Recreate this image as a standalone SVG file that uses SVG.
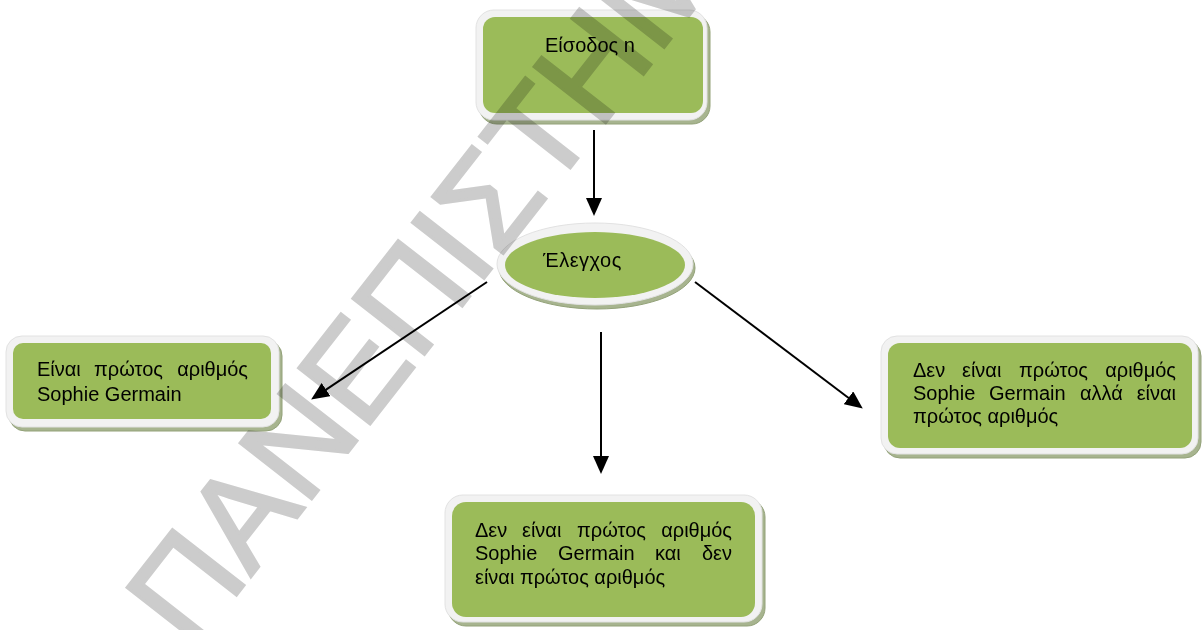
<svg xmlns="http://www.w3.org/2000/svg" width="1203" height="630" viewBox="0 0 1203 630">
<style>
.bg{fill:#ffffff}
.shadow{fill:#a7b48f;stroke:#93a279;stroke-width:1}
.border{fill:#f2f2f2;stroke:#e2e2e2;stroke-width:1}
.green{fill:#9bbb59}
.t{font-family:"Liberation Sans",Arial,sans-serif;font-size:20px;fill:#000}
.e{text-anchor:end}
.conn line{stroke:#000;stroke-width:2}
.wm{font-family:"Liberation Sans",Arial,sans-serif;font-size:132px;fill:#cccccc;stroke:#cccccc;stroke-width:3;mix-blend-mode:multiply}
</style>
<defs>
<marker id="ah" markerUnits="userSpaceOnUse" markerWidth="18" markerHeight="16" refX="9" refY="8" orient="auto">
<path d="M0,0 L18,8 L0,16 z" fill="#000"/>
</marker>
</defs>
<rect class="bg" x="0" y="0" width="1203" height="630"/>

<g id="node-input">
<rect class="shadow" x="479" y="14" width="231" height="110" rx="18"/>
<rect class="border" x="476" y="10" width="231" height="110" rx="18"/>
<rect class="green" x="483" y="17" width="220" height="96" rx="12"/>
<text class="t" x="545" y="52">Είσοδος n</text>
</g>

<g id="node-check">
<ellipse class="shadow" cx="597" cy="268" rx="98" ry="41"/>
<ellipse class="border" cx="595" cy="264" rx="98" ry="41"/>
<ellipse class="green" cx="595" cy="265" rx="90" ry="33"/>
<text class="t" x="543" y="267" letter-spacing="0.5">Έλεγχος</text>
</g>

<g id="node-sg">
<rect class="shadow" x="9" y="340" width="273" height="91" rx="16"/>
<rect class="border" x="6" y="336" width="273" height="91" rx="16"/>
<rect class="green" x="13" y="343" width="258" height="76" rx="10"/>
<text class="t" x="37" y="376">Είναι</text>
<text class="t" x="94" y="376">πρώτος</text>
<text class="t e" x="248" y="376">αριθμός</text>
<text class="t" x="37" y="401">Sophie Germain</text>
</g>

<g id="node-prime">
<rect class="shadow" x="884" y="340" width="317" height="118" rx="16"/>
<rect class="border" x="881" y="336" width="317" height="118" rx="16"/>
<rect class="green" x="888" y="343" width="304" height="105" rx="12"/>
<text class="t" x="913" y="377">Δεν</text>
<text class="t" x="962" y="377">είναι</text>
<text class="t" x="1019" y="377">πρώτος</text>
<text class="t e" x="1176" y="377">αριθμός</text>
<text class="t" x="913" y="400">Sophie</text>
<text class="t" x="989" y="400">Germain</text>
<text class="t" x="1080" y="400">αλλά</text>
<text class="t e" x="1176" y="400">είναι</text>
<text class="t" x="913" y="423">πρώτος αριθμός</text>
</g>

<g id="node-none">
<rect class="shadow" x="448" y="499" width="317" height="127" rx="18"/>
<rect class="border" x="445" y="495" width="317" height="127" rx="18"/>
<rect class="green" x="452" y="502" width="303" height="115" rx="14"/>
<text class="t" x="475" y="537">Δεν</text>
<text class="t" x="522" y="537">είναι</text>
<text class="t" x="577" y="537">πρώτος</text>
<text class="t e" x="732" y="537">αριθμός</text>
<text class="t" x="475" y="560">Sophie</text>
<text class="t" x="558" y="560">Germain</text>
<text class="t" x="655" y="560">και</text>
<text class="t e" x="732" y="560">δεν</text>
<text class="t" x="475" y="584">είναι πρώτος αριθμός</text>
</g>

<g id="connectors" class="conn">
<line x1="594" y1="130" x2="594" y2="207" marker-end="url(#ah)"/>
<line x1="487" y1="282" x2="318.6" y2="394.6" marker-end="url(#ah)"/>
<line x1="601" y1="332" x2="601" y2="465" marker-end="url(#ah)"/>
<line x1="695" y1="282" x2="855.6" y2="403.2" marker-end="url(#ah)"/>
</g>

<text class="wm" transform="translate(192,652) rotate(-52)">ΠΑΝΕΠΙΣΤΗΜ</text>
</svg>
